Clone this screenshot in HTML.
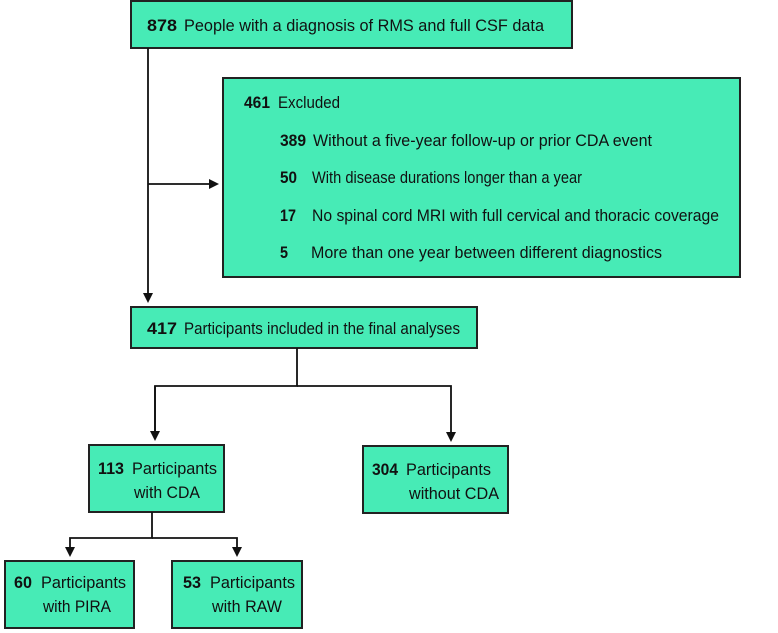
<!DOCTYPE html>
<html><head><meta charset="utf-8"><style>
html,body{margin:0;padding:0;background:#fff;}
svg{display:block;}
text{font-family:"Liberation Sans",sans-serif;font-size:17px;fill:#111;}
.b{font-weight:bold;}
</style></head><body>
<svg width="778" height="633" viewBox="0 0 778 633" xmlns="http://www.w3.org/2000/svg">
<defs><marker id="a" markerWidth="10" markerHeight="10" refX="5" refY="5" orient="auto" markerUnits="userSpaceOnUse"><path d="M0,0 L10,5 L0,10 z" fill="#111"/></marker></defs>
<g fill="#47ebb6" stroke="#222" stroke-width="2">
<rect x="131" y="1" width="441" height="47"/>
<rect x="223" y="78" width="517" height="199"/>
<rect x="131" y="307" width="346" height="41"/>
<rect x="89" y="445" width="135" height="67"/>
<rect x="363" y="446" width="145" height="67"/>
<rect x="5" y="561" width="129" height="67"/>
<rect x="172" y="561" width="130" height="67"/>
</g>
<g stroke="#111" stroke-width="1.8" fill="none">
<path d="M148,48 V298" marker-end="url(#a)"/>
<path d="M148,184 H214" marker-end="url(#a)"/>
<path d="M297,348 V386 H155 V436"/>
<path d="M155,386 V436" marker-end="url(#a)"/>
<path d="M297,386 H451 V437" marker-end="url(#a)"/>
<path d="M152,512 V538 H70 V552" marker-end="url(#a)"/>
<path d="M152,538 H237 V552" marker-end="url(#a)"/>
</g>
<g lengthAdjust="spacingAndGlyphs">
<text x="147" y="31" class="b" textLength="30" lengthAdjust="spacingAndGlyphs">878</text>
<text x="184" y="31" textLength="360" lengthAdjust="spacingAndGlyphs">People with a diagnosis of RMS and full CSF data</text>
<text x="244" y="108" class="b" textLength="26" lengthAdjust="spacingAndGlyphs">461</text>
<text x="278" y="108" textLength="62" lengthAdjust="spacingAndGlyphs">Excluded</text>
<text x="280" y="146" class="b" textLength="26" lengthAdjust="spacingAndGlyphs">389</text>
<text x="313" y="146" textLength="339" lengthAdjust="spacingAndGlyphs">Without a five-year follow-up or prior CDA event</text>
<text x="280" y="183" class="b" textLength="17" lengthAdjust="spacingAndGlyphs">50</text>
<text x="312" y="183" textLength="270" lengthAdjust="spacingAndGlyphs">With disease durations longer than a year</text>
<text x="280" y="221" class="b" textLength="16" lengthAdjust="spacingAndGlyphs">17</text>
<text x="312" y="221" textLength="407" lengthAdjust="spacingAndGlyphs">No spinal cord MRI with full cervical and thoracic coverage</text>
<text x="280" y="258" class="b" textLength="8" lengthAdjust="spacingAndGlyphs">5</text>
<text x="311" y="258" textLength="351" lengthAdjust="spacingAndGlyphs">More than one year between different diagnostics</text>
<text x="147" y="334" class="b" textLength="30" lengthAdjust="spacingAndGlyphs">417</text>
<text x="184" y="334" textLength="276" lengthAdjust="spacingAndGlyphs">Participants included in the final analyses</text>
<text x="98" y="474" class="b" textLength="26" lengthAdjust="spacingAndGlyphs">113</text>
<text x="132" y="474" textLength="85" lengthAdjust="spacingAndGlyphs">Participants</text>
<text x="134" y="498" textLength="66" lengthAdjust="spacingAndGlyphs">with CDA</text>
<text x="372" y="475" class="b" textLength="26" lengthAdjust="spacingAndGlyphs">304</text>
<text x="406" y="475" textLength="85" lengthAdjust="spacingAndGlyphs">Participants</text>
<text x="409" y="499" textLength="90" lengthAdjust="spacingAndGlyphs">without CDA</text>
<text x="14" y="588" class="b" textLength="18" lengthAdjust="spacingAndGlyphs">60</text>
<text x="41" y="588" textLength="85" lengthAdjust="spacingAndGlyphs">Participants</text>
<text x="43" y="612" textLength="68" lengthAdjust="spacingAndGlyphs">with PIRA</text>
<text x="183" y="588" class="b" textLength="18" lengthAdjust="spacingAndGlyphs">53</text>
<text x="210" y="588" textLength="85" lengthAdjust="spacingAndGlyphs">Participants</text>
<text x="212" y="612" textLength="70" lengthAdjust="spacingAndGlyphs">with RAW</text>
</g>
</svg>
</body></html>
